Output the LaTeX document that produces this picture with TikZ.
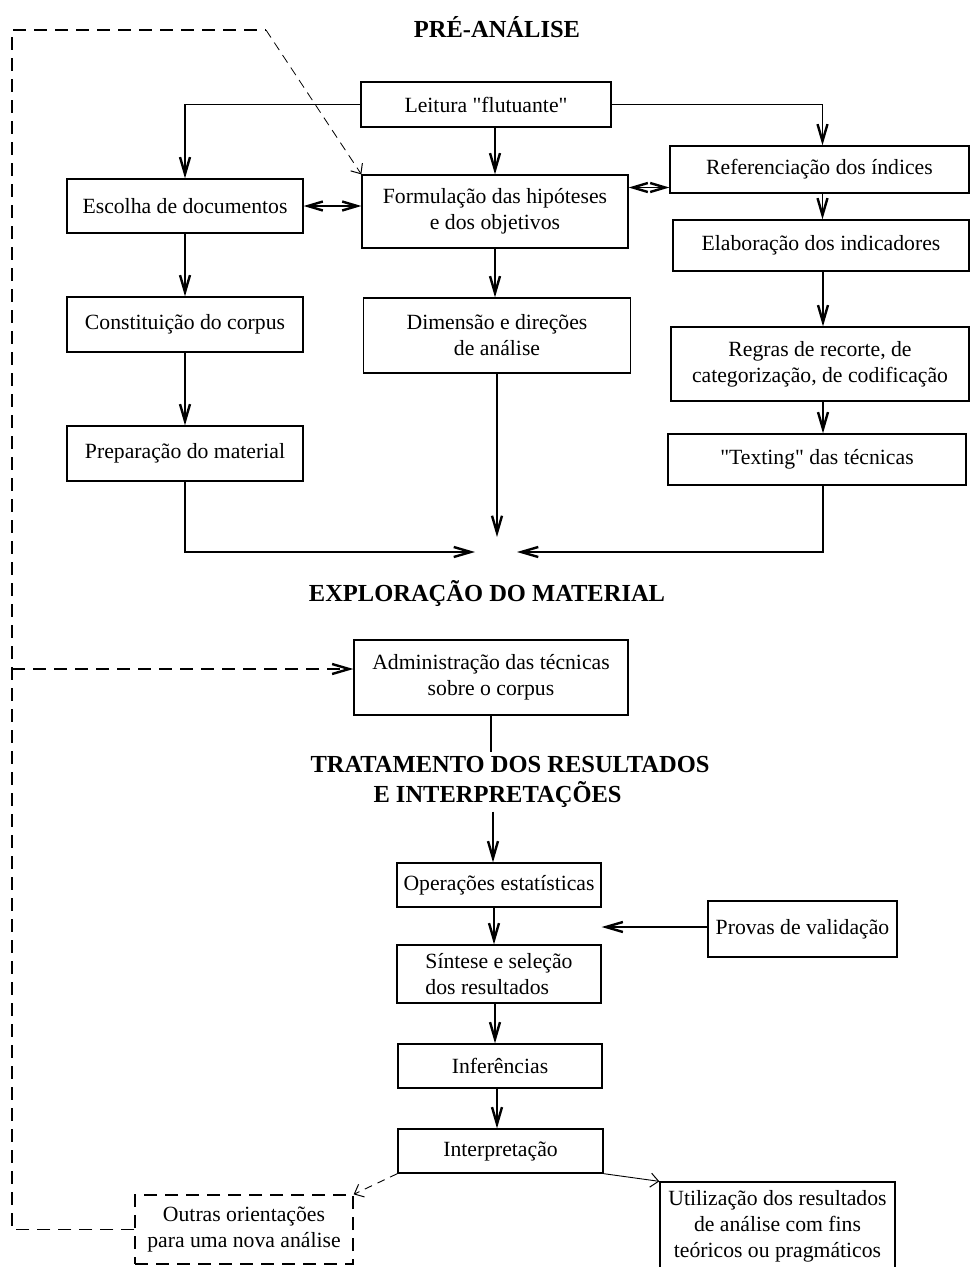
\documentclass[tikz,border=0pt]{standalone}
\usepackage{fontspec}
\setmainfont{Liberation Serif}
\usetikzlibrary{arrows.meta}

\tikzset{
  caixa/.style={shape=rectangle, draw, line width=1.3pt, align=center, inner sep=2pt, font=\fontsize{21.7}{26}\selectfont},
  titulo/.style={font=\bfseries\fontsize{24.5}{30}\selectfont},
  seta/.style={-{Straight Barb[length=17pt,width=10pt,line width=2.4pt]}},
  setadupla/.style={{Straight Barb[length=15pt,width=9pt,line width=2.4pt]}-{Straight Barb[length=15pt,width=9pt,line width=2.4pt]}},
  setafina/.style={-{Straight Barb[length=8pt,width=14pt,line width=1pt]}},
  tracejado/.style={dash pattern=on 13pt off 8pt},
}

\begin{document}
\begin{tikzpicture}[x=1pt, y=-1pt, line width=1.3pt]
\useasboundingbox (0,0) rectangle (970,1267);

\node (preanalise) at (497,27) [titulo] {PRÉ-ANÁLISE};
\node (leitura) at (486,104.5) [caixa, minimum width=250, minimum height=45] {Leitura \textquotedbl flutuante\textquotedbl};
\node (escolha) at (185,206) [caixa, minimum width=236, minimum height=54] {Escolha de documentos};
\node (formulacao) at (495,211.5) [caixa, minimum width=266, minimum height=73] {Formulação das hipóteses\\e dos objetivos};
\node (referencia) at (819.5,169.5) [caixa, minimum width=299, minimum height=47] {Referenciação dos índices};
\node (elaboracao) at (821,245.5) [caixa, minimum width=296, minimum height=51] {Elaboração dos indicadores};
\node (constituicao) at (185,324.5) [caixa, minimum width=236, minimum height=55] {Constituição do corpus};
\node (dimensao) at (497,335.5) [caixa, minimum width=267, minimum height=75] {Dimensão e direções\\de análise};
\node (regras) at (820,364) [caixa, minimum width=298, minimum height=74] {Regras de recorte, de\\categorização, de codificação};
\node (preparacao) at (185,453.5) [caixa, minimum width=236, minimum height=55] {Preparação do material};
\node (texting) at (817,459.5) [caixa, minimum width=298, minimum height=51] {\textquotedbl Texting\textquotedbl{} das técnicas};

\node (exploracao) at (487,593) [titulo] {EXPLORAÇÃO DO MATERIAL};
\node (administracao) at (491,677.5) [caixa, minimum width=274, minimum height=75] {Administração das técnicas\\sobre o corpus};
\node (tratamento) at (510,782) [titulo, align=left] {TRATAMENTO DOS RESULTADOS\\\hspace*{63pt}E INTERPRETAÇÕES};

\node (operacoes) at (499,885) [caixa, minimum width=204, minimum height=44] {Operações estatísticas};
\node (provas) at (802.5,929) [caixa, minimum width=189, minimum height=56] {Provas de validação};
\node (sintese) at (499,974) [caixa, minimum width=204, minimum height=58, align=left] {Síntese e seleção\\dos resultados};
\node (inferencias) at (500,1066) [caixa, minimum width=204, minimum height=44] {Inferências};
\node (interpretacao) at (500.5,1151) [caixa, minimum width=205, minimum height=44] {Interpretação};
\node (outras) at (244,1229.5) [caixa, tracejado, minimum width=218, minimum height=69] {Outras orientações\\para uma nova análise};
\node (utilizacao) at (777.5,1226) [caixa, minimum width=235, minimum height=88] {Utilização dos resultados\\de análise com fins\\teóricos ou pragmáticos};

\coordinate (centro) at (497,537);
\coordinate (esquerda) at (475,552);
\coordinate (direita) at (517,552);
\coordinate (canto) at (12,30);
\coordinate (dobra) at (266,30);
\coordinate (ramo) at (12,669);

% pre-analise
\draw [seta] (leitura.west) -| (escolha.north);
\draw [seta] (formulacao.north |- leitura.south) -- (formulacao.north);
\draw [seta] (leitura.east) -| ([xshift=3pt]referencia.north);
\draw [setadupla] (escolha.east) -- (escolha.east -| formulacao.west);
\draw [setadupla] ([yshift=24pt]formulacao.east) -- ([yshift=24pt]formulacao.east -| referencia.west);
\draw [seta] ([xshift=3pt]referencia.south) -- ([xshift=3pt]referencia.south |- elaboracao.north);
\draw [seta] ([xshift=2pt]elaboracao.south) -- ([xshift=2pt]elaboracao.south |- regras.north);
\draw [seta] ([xshift=3pt]regras.south) -- ([xshift=3pt]regras.south |- texting.north);
\draw [seta] (escolha.south) -- (constituicao.north);
\draw [seta] (constituicao.south) -- (preparacao.north);
\draw [seta] (formulacao.south) -- (formulacao.south |- dimensao.north);
\draw [seta] (dimensao.south) -- (centro);
\draw [seta] (preparacao.south) |- (esquerda);
\draw [seta] ([xshift=6pt]texting.south) |- (direita);

% exploracao e tratamento
\draw (administracao.south) -- (administracao.south |- tratamento.north);
\draw [seta] ([xshift=-6pt]operacoes.north |- tratamento.south) -- ([xshift=-6pt]operacoes.north);
\draw [seta] ([xshift=-5pt]operacoes.south) -- ([xshift=-5pt]operacoes.south |- sintese.north);
\draw [seta] ([xshift=-4pt]sintese.south) -- ([xshift=-4pt]sintese.south |- inferencias.north);
\draw [seta] ([xshift=-3pt]inferencias.south) -- ([xshift=-3pt]inferencias.south |- interpretacao.north);
\draw [seta] ([yshift=2pt]provas.west) -- ([yshift=2pt]provas.west -| sintese.east);
\draw [setafina, line width=0.9pt] (interpretacao.south east) -- (utilizacao.north west);
\draw [setafina, line width=0.9pt, dash pattern=on 8pt off 6pt] (interpretacao.south west) -- (outras.north east);

% retorno tracejado
\draw [tracejado] (outras.west) -| (canto) -- (dobra);
\draw [setafina, line width=0.8pt, dash pattern=on 9pt off 6pt] (dobra) -- (formulacao.north west);
\draw [seta, tracejado] (ramo) -- (ramo -| administracao.west);
\end{tikzpicture}
\end{document}
